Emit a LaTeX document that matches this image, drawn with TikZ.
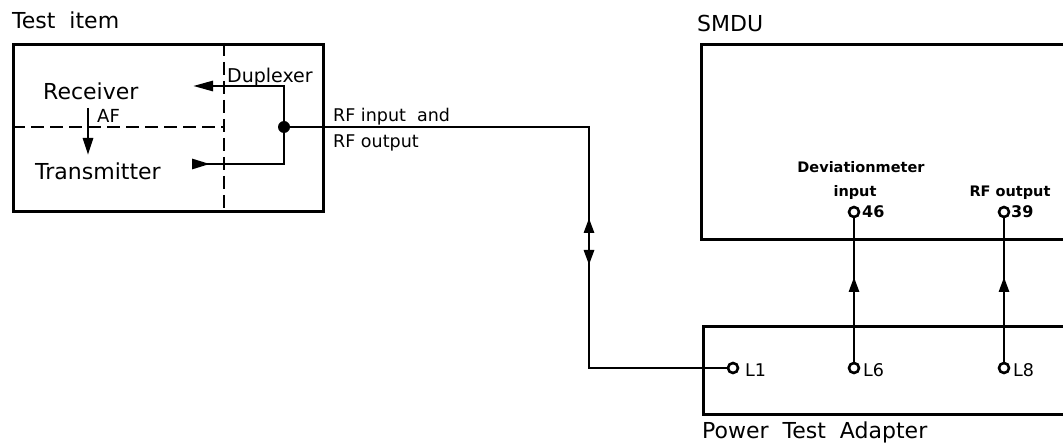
\documentclass[tikz,border=0pt]{standalone}
\usepackage{fontspec}
\setmainfont{DejaVu Sans}
\usetikzlibrary{arrows.meta}
\begin{document}
\begin{tikzpicture}[x=1pt,y=-1pt,
  box/.style={draw, line width=3.4pt, inner sep=0pt, anchor=north west},
  wire/.style={line width=2.8pt},
  dashline/.style={line width=2.8pt, dash pattern=on 13pt off 6pt},
  big/.style={inner sep=0pt, anchor=base west, font=\fontsize{22}{26}\selectfont},
  mid/.style={inner sep=0pt, anchor=base west, font=\fontsize{17.5}{21}\selectfont},
  lab/.style={inner sep=0pt, anchor=base, font=\bfseries\fontsize{14.5}{17}\selectfont},
  port/.style={circle, draw, line width=2.6pt, fill=white, minimum size=10pt, inner sep=0pt},
  tip/.style={-{Triangle[length=17pt,width=10pt]}},
  smalltip/.style={-{Triangle[length=15pt,width=10pt]}}
]
\useasboundingbox (0,0) rectangle (1063,446);
\clip (0,0) rectangle (1063,446);
\fill[white] (0,0) rectangle (1063,446);

% Test item
\node[big] (ttest) at (12,29) {Test\ \ item};
\node[box, minimum width=310pt, minimum height=167pt] (test) at (12,43) {};
\coordinate (dvtop) at (224,43);
\coordinate (dvbot) at (224,210);
\coordinate (dhl) at (12,127);
\coordinate (dhr) at (224,127);
\draw[dashline] (dvtop) -- (dvbot);
\draw[dashline] (dhl) -- (dhr);

\node[big] (rx) at (43,100) {Receiver};
\node[big] (tx) at (35,180) {Transmitter};
\node[mid, font=\fontsize{18}{21}\selectfont] (af) at (97,123) {AF};
\node[mid, font=\fontsize{19}{22}\selectfont] (dup) at (227,83) {Duplexer};

\coordinate (af1) at (88,108);
\coordinate (af2) at (88,155);
\draw[wire, tip] (af1) -- (af2);

\coordinate (dtop) at (284,86);
\coordinate (dbot) at (284,164);
\coordinate (rxend) at (193,86);
\coordinate (txstart) at (192,164);
\draw[wire, line cap=rect] (dtop) -- (dbot);
\draw[wire, -{Triangle[length=20pt,width=10pt]}] (dtop) -- (rxend);
\draw[wire, {Triangle[reversed,length=18pt,width=10pt]}-] (txstart) -- (dbot);
\node[circle, fill, inner sep=0pt, minimum size=12pt] (dot) at (284,127) {};

% RF line
\node[mid] (rfin) at (333,122) {RF input\ \ and};
\node[mid] (rfout) at (333,148) {RF output};
\coordinate (c1) at (589,127);
\coordinate (c2) at (589,368);
\coordinate (dmid) at (589,241);
\coordinate (dup1) at (589,218);
\coordinate (ddn1) at (589,265);

% SMDU
\node[big] (tsmdu) at (697,32) {SMDU};
\node[box, minimum width=420pt, minimum height=195pt] (smdu) at (700,43) {};
\node[lab] (devm) at (861,173) {Deviationmeter};
\node[lab] (devi) at (855,197) {input};
\node[lab] (rfo) at (1010,197) {RF output};

% Power Test Adapter
\node[box, minimum width=420pt, minimum height=88pt] (pta) at (702,325) {};
\node[big] (tpta) at (702,438) {Power\ \ Test\ \ Adapter};

% ports
\coordinate (a46) at (854,277);
\coordinate (a39) at (1004,277);
\node[port] (L1) at (733,368) {};
\node[port] (L6) at (854,368) {};
\node[port] (L8) at (1004,368) {};
\draw[wire] (L6) -- (854,216);
\draw[wire] (L8) -- (1004,216);
\node[port] (p46) at (854,212) {};
\node[port] (p39) at (1004,212) {};
\draw[wire, smalltip] (L6) -- (a46);
\draw[wire, smalltip] (L8) -- (a39);

\draw[wire, line join=miter] (dot) -- (c1) -- (c2) -- (L1);
\draw[wire, smalltip] (dmid) -- (dup1);
\draw[wire, smalltip] (dmid) -- (ddn1);

\node[mid, font=\bfseries\fontsize{16}{19}\selectfont] (t46) at (862,218) {46};
\node[mid, font=\bfseries\fontsize{16}{19}\selectfont] (t39) at (1011,218) {39};
\node[mid] (tL1) at (745,377) {L1};
\node[mid] (tL6) at (863,377) {L6};
\node[mid] (tL8) at (1013,377) {L8};
\end{tikzpicture}
\end{document}
